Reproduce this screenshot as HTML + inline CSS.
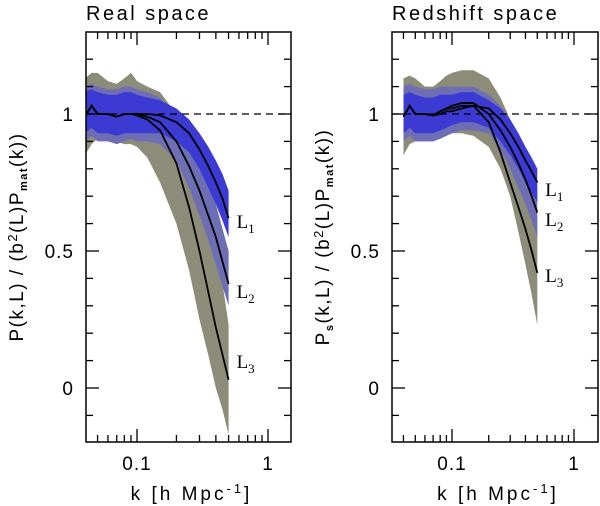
<!DOCTYPE html>
<html><head><meta charset="utf-8"><style>
html,body{margin:0;padding:0;background:#fff;}
svg{display:block;font-family:"Liberation Sans",sans-serif;}
</style></head><body>
<svg id="c" width="600" height="506"></svg>
<script>
// shared k grid
const kGrid = [0.04,0.045,0.05,0.06,0.07,0.08,0.09,0.1,0.12,0.15,0.2,0.25,0.3,0.35,0.4,0.45,0.5];
// Real space
const realL1 = [0.99,1.03,1.0,1.0,0.99,1.0,1.0,1.0,1.0,0.995,0.97,0.93,0.87,0.81,0.75,0.69,0.62];
const realL2 = [0.99,1.03,1.0,1.0,0.99,1.0,1.0,1.0,0.99,0.97,0.9,0.81,0.72,0.63,0.55,0.46,0.38];
const realL3 = [0.99,1.03,1.0,1.0,0.99,1.0,1.0,0.995,0.98,0.94,0.82,0.66,0.5,0.35,0.22,0.12,0.03];
const realB1Up = [1.08,1.09,1.08,1.07,1.07,1.08,1.08,1.07,1.06,1.05,1.02,0.98,0.93,0.88,0.83,0.78,0.72];
const realB1Lo = [0.93,0.95,0.93,0.93,0.92,0.93,0.93,0.93,0.93,0.93,0.9,0.86,0.8,0.73,0.67,0.61,0.55];
const realB2Up = [1.1,1.11,1.1,1.09,1.09,1.1,1.1,1.09,1.08,1.06,0.98,0.9,0.82,0.74,0.67,0.58,0.5];
const realB2Lo = [0.9,0.92,0.9,0.9,0.89,0.9,0.91,0.9,0.9,0.89,0.83,0.73,0.63,0.54,0.45,0.37,0.3];
const realB3Up = [1.13,1.15,1.15,1.12,1.11,1.13,1.15,1.12,1.1,1.08,1.0,0.9,0.78,0.65,0.52,0.38,0.23];
const realB3Lo = [0.85,0.89,0.91,0.9,0.9,0.89,0.89,0.88,0.84,0.75,0.6,0.43,0.25,0.12,0.0,-0.08,-0.17];
// Redshift space
const zL1 = [0.99,1.03,1.0,1.0,0.995,1.01,1.02,1.02,1.03,1.03,1.02,0.98,0.93,0.88,0.83,0.79,0.75];
const zL2 = [0.99,1.03,1.0,1.0,0.995,1.01,1.02,1.03,1.04,1.04,1.0,0.94,0.88,0.82,0.76,0.7,0.64];
const zL3 = [0.99,1.03,1.0,1.0,0.995,1.0,1.01,1.01,1.02,1.03,0.97,0.86,0.75,0.66,0.58,0.5,0.42];
const zB1Up = [1.07,1.08,1.07,1.06,1.06,1.07,1.07,1.07,1.08,1.08,1.05,1.02,0.98,0.93,0.88,0.84,0.8];
const zB1Lo = [0.93,0.95,0.93,0.93,0.93,0.94,0.95,0.96,0.97,0.97,0.95,0.9,0.85,0.8,0.75,0.71,0.68];
const zB2Up = [1.1,1.11,1.1,1.09,1.09,1.1,1.1,1.1,1.1,1.1,1.07,1.03,0.98,0.92,0.85,0.78,0.72];
const zB2Lo = [0.9,0.92,0.9,0.9,0.9,0.91,0.92,0.93,0.94,0.94,0.93,0.87,0.8,0.73,0.67,0.61,0.55];
const zB3Up = [1.13,1.14,1.13,1.1,1.1,1.12,1.14,1.15,1.16,1.16,1.13,1.06,0.98,0.9,0.8,0.71,0.62];
const zB3Lo = [0.85,0.89,0.9,0.9,0.9,0.91,0.92,0.93,0.93,0.92,0.88,0.8,0.7,0.57,0.45,0.34,0.23];
const yTickLabels = ["0","0.5","1"];
const xTickLabels = ["0.1","1"];

const NS="http://www.w3.org/2000/svg";
const svg=document.getElementById('c');
function mk(tag,attrs,parent){const e=document.createElementNS(NS,tag);for(const a in attrs)e.setAttribute(a,attrs[a]);(parent||svg).appendChild(e);return e;}

function panel(p){
  const g=mk('g',{});
  
  
  const X0=p.x0,X1=p.x1,Y0=32,Y1=442;
  const x=k=>p.xAt01+(Math.log10(k)+1)*p.dec;
  const y=v=>388-v*274;
  const clipId=p.name+'-clip';
  const cp=mk('clipPath',{id:clipId},g);mk('rect',{x:X0,y:Y0,width:X1-X0,height:Y1-Y0},cp);
  const pg=mk('g',{'clip-path':'url(#'+clipId+')'},g);
  function band(up,lo,col,name){
    let d='M'+kGrid.map((k,i)=>x(k).toFixed(1)+','+y(up[i]).toFixed(1)).join('L');
    for(let i=kGrid.length-1;i>=0;i--)d+='L'+x(kGrid[i]).toFixed(1)+','+y(lo[i]).toFixed(1);
    const e=mk('path',{d:d+'Z',fill:col},pg);
    
    
  }
  band(p.b3u,p.b3l,'#8c8c78','band-l3');
  band(p.b2u,p.b2l,'#6e6eb4','band-l2');
  band(p.b1u,p.b1l,'#3b3bd4','band-l1');
  const dl=mk('line',{x1:X0,x2:X1,y1:y(1),y2:y(1),stroke:'#000','stroke-width':1.3,'stroke-dasharray':'7,5'},pg);
  
  
  [[p.l1,'line-l1'],[p.l2,'line-l2'],[p.l3,'line-l3']].forEach(([s,n])=>{
    const e=mk('polyline',{points:kGrid.map((k,i)=>x(k).toFixed(1)+','+y(s[i]).toFixed(1)).join(' '),fill:'none',stroke:'#000','stroke-width':1.8},pg);
    
    
  });
  const fr=mk('rect',{x:X0,y:Y0,width:X1-X0,height:Y1-Y0,fill:'none',stroke:'#000','stroke-width':1.5},g);
  
  
  for(let i=-2;i<=13;i++){const v=i/10;const yy=y(v);if(yy<Y0+1||yy>Y1-1)continue;const L=(i%5===0)?13:7;
    mk('line',{x1:X0,x2:X0+L,y1:yy,y2:yy,stroke:'#000','stroke-width':1.3},g);
    mk('line',{x1:X1,x2:X1-L,y1:yy,y2:yy,stroke:'#000','stroke-width':1.3},g);}
  yTickLabels.forEach((t,i)=>{const e=mk('text',{x:X0-12,y:y(+t)+7,'text-anchor':'end','font-size':19,'letter-spacing':'1'},g);e.textContent=t;
    });
  for(let d=-2;d<=0;d++)for(let m=1;m<=9;m++){const k=m*Math.pow(10,d);const xx=x(k);if(xx<X0+1||xx>X1-1)continue;const L=m===1?13:7;
    mk('line',{x1:xx,x2:xx,y1:Y1,y2:Y1-L,stroke:'#000','stroke-width':1.3},g);
    mk('line',{x1:xx,x2:xx,y1:Y0,y2:Y0+L,stroke:'#000','stroke-width':1.3},g);}
  xTickLabels.forEach(t=>{const e=mk('text',{x:x(+t),y:470,'text-anchor':'middle','font-size':19,'letter-spacing':'1'},g);e.textContent=t;
    });
  const xt=mk('text',{x:(X0+X1)/2+3,y:500,'text-anchor':'middle','font-size':19,'letter-spacing':'3'},g);
  xt.innerHTML='k [h Mpc<tspan font-size="13" dy="-7">-1</tspan><tspan dy="7">]</tspan>';
  
  const tt=mk('text',{x:X0,y:20,'font-size':20,'letter-spacing':'2.5'},g);tt.textContent=p.title;
  
  const yt=mk('text',{transform:'translate('+(p.x0-63)+',237) rotate(-90)','text-anchor':'middle','font-size':19,'letter-spacing':'1.5'},g);
  yt.innerHTML=p.ylab;
  
  p.labs.forEach((ly,i)=>{const e=mk('text',{x:x(0.5)+8,y:ly,'font-size':19,'font-family':'Liberation Serif, serif'},g);
    e.innerHTML='L<tspan font-size="13" dy="5">'+(i+1)+'</tspan>';
    });
}
panel({name:'real-space-panel',title:'Real space',x0:86,x1:291,xAt01:137,dec:131,
  l1:realL1,l2:realL2,l3:realL3,b1u:realB1Up,b1l:realB1Lo,b2u:realB2Up,b2l:realB2Lo,b3u:realB3Up,b3l:realB3Lo,
  labs:[228,298,368],
  ylab:'P(k,L) / (b<tspan font-size="13" dy="-6">2</tspan><tspan dy="6">(L)P</tspan><tspan font-size="11" dy="4" font-weight="bold">mat</tspan><tspan dy="-4">(k))</tspan>'});
panel({name:'redshift-space-panel',title:'Redshift space',x0:392,x1:598,xAt01:452,dec:122,
  l1:zL1,l2:zL2,l3:zL3,b1u:zB1Up,b1l:zB1Lo,b2u:zB2Up,b2l:zB2Lo,b3u:zB3Up,b3l:zB3Lo,
  labs:[196,226,282],
  ylab:'P<tspan font-size="11" dy="4" font-weight="bold">s</tspan><tspan dy="-4">(k,L) / (b</tspan><tspan font-size="13" dy="-6">2</tspan><tspan dy="6">(L)P</tspan><tspan font-size="11" dy="4" font-weight="bold">mat</tspan><tspan dy="-4">(k))</tspan>'});
</script>
</body></html>
